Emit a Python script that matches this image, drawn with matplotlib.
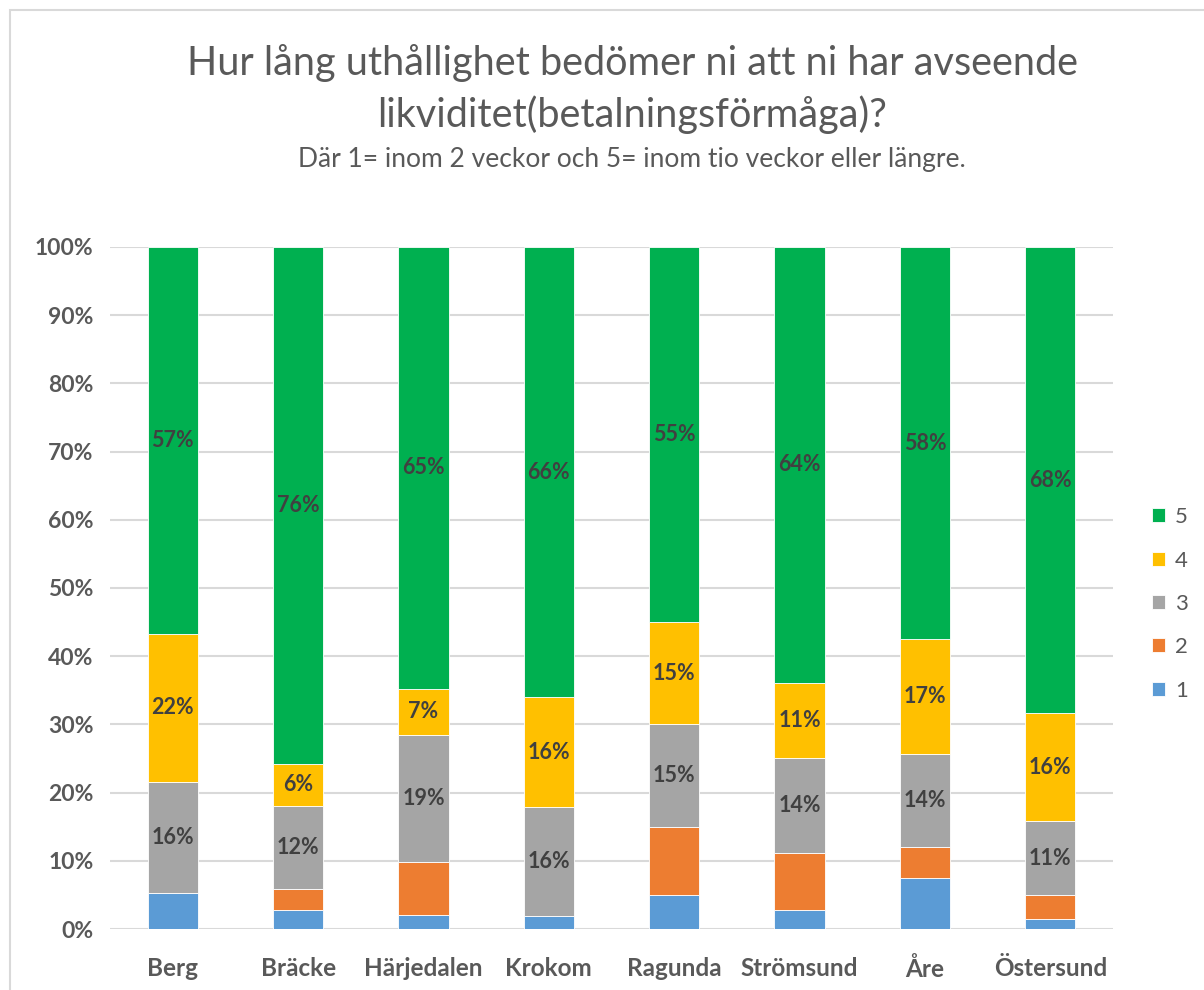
"""
Staplat stapeldiagram: uthållighet avseende likviditet per kommun
"""

import numpy as np
import matplotlib.pyplot as plt
from matplotlib.patches import Rectangle

plt.rcParams['font.family'] = ['Lato', 'DejaVu Sans']

# kommuner
kommuner = ['Berg', 'Bräcke', 'Härjedalen', 'Krokom', 'Ragunda',
            'Strömsund', 'Åre', 'Östersund']

# andelar (%) per svarsalternativ
svar_1 = [5.3, 2.8, 2.1, 1.9, 5.0, 2.8, 7.5, 1.4]
svar_2 = [0.0, 3.1, 7.7, 0.0, 10.0, 8.3, 4.5, 3.6]
svar_3 = [16.3, 12.2, 18.7, 16.0, 15.0, 13.9, 13.7, 10.8]
svar_4 = [21.7, 6.1, 6.7, 16.1, 15.0, 11.1, 16.8, 15.8]
svar_5 = [56.7, 75.8, 64.8, 66.0, 55.0, 63.9, 57.5, 68.4]

serie_namn = ['1', '2', '3', '4', '5']
farger = ['#5B9BD5', '#ED7D31', '#A5A5A5', '#FFC000', '#00B050']
visa_etikett = [False, False, True, True, True]

titel = 'Hur lång uthållighet bedömer ni att ni har avseende\nlikviditet(betalningsförmåga)?'
undertitel = 'Där 1= inom 2 veckor och 5= inom tio veckor eller längre.'

textfarg = '#595959'


def main():
    fig = plt.figure(figsize=(12.04, 9.9), dpi=100)
    ax = fig.add_axes([0.0914, 0.0616, 0.833, 0.689])

    # ram runt diagrammet
    fig.patches.append(Rectangle((0.008, -0.01), 1.2, 1.0, transform=fig.transFigure,
                                 fill=False, edgecolor='#D9D9D9', linewidth=1.5))

    x = np.arange(len(kommuner))
    serier = [svar_1, svar_2, svar_3, svar_4, svar_5]
    botten = np.zeros(len(kommuner))
    staplar = []
    for varden, farg, namn, etikett in zip(serier, farger, serie_namn, visa_etikett):
        varden = np.array(varden)
        b = ax.bar(x, varden, width=0.4, bottom=botten, color=farg, label=namn,
                   edgecolor='white', linewidth=0.6, zorder=3)
        staplar.append(b)
        if etikett:
            for xi, v, bo in zip(x, varden, botten):
                if v > 0:
                    ax.text(xi, bo + v / 2, f'{round(v):.0f}%', ha='center', va='center',
                            fontsize=15.5, fontweight='bold', color='#404040', zorder=4)
        botten += varden

    ax.set_xlim(-0.5, len(kommuner) - 0.5)
    ax.set_ylim(0, 100)
    ax.set_yticks(np.arange(0, 101, 10))
    ax.set_yticklabels([f'{v}%' for v in range(0, 101, 10)])
    ax.set_xticks(x)
    ax.set_xticklabels(kommuner)
    for lbl in ax.get_xticklabels():
        lbl.set_fontweight('bold')
        lbl.set_fontsize(17.5)
        lbl.set_color(textfarg)
    for lbl in ax.get_yticklabels():
        lbl.set_fontweight('bold')
        lbl.set_fontsize(16.5)
        lbl.set_color(textfarg)
    ax.tick_params(axis='y', length=0, pad=12)
    ax.tick_params(axis='x', length=0, pad=20)
    ax.grid(axis='y', color='#D9D9D9', linewidth=1.5, zorder=0)
    for s in ax.spines.values():
        s.set_visible(False)

    fig.text(0.525, 0.910, titel, ha='center', va='center', fontsize=28.5,
             color=textfarg, linespacing=1.42)
    fig.text(0.525, 0.839, undertitel, ha='center', va='center', fontsize=19,
             color=textfarg)

    handtag = [s[0] for s in staplar][::-1]
    fig.legend(handtag, serie_namn[::-1], loc='center left', bbox_to_anchor=(0.94, 0.39),
               frameon=False, fontsize=16, handlelength=0.6, handleheight=0.6,
               labelspacing=1.05, handletextpad=0.45, labelcolor=textfarg)

    fig.savefig('out.png', dpi=100)


if __name__ == "__main__":
    main()
